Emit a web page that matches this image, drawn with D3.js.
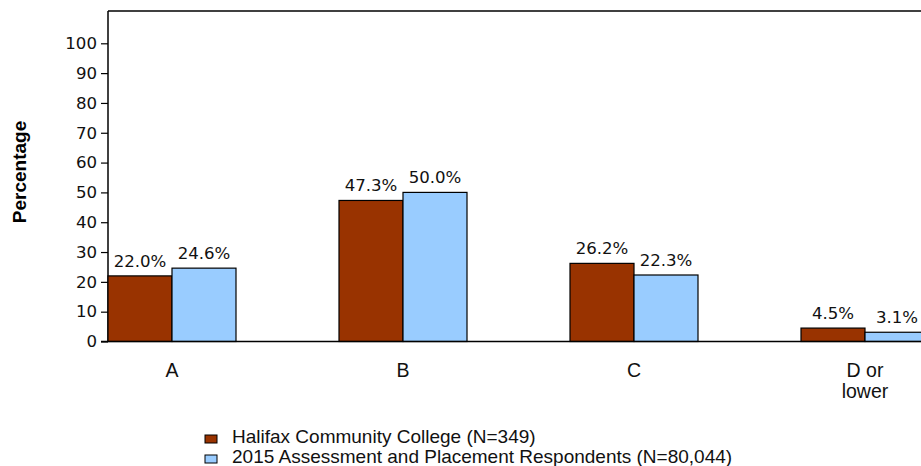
<!DOCTYPE html>
<html>
<head>
<meta charset="utf-8">
<script src="https://cdn.jsdelivr.net/npm/d3@7"></script>
<style>
  html, body { margin: 0; padding: 0; background: #fff; }
  svg { display: block; }
</style>
</head>
<body>
<svg id="chart" width="921" height="466"></svg>
<script>
const categories = ["A", "B", "C", "D or lower"];
const seriesNames = ["Halifax Community College (N=349)", "2015 Assessment and Placement Respondents (N=80,044)"];
const halifax = [22.0, 47.3, 26.2, 4.5];
const respondents = [24.6, 50.0, 22.3, 3.1];
const yTicks = [0, 10, 20, 30, 40, 50, 60, 70, 80, 90, 100];
const colors = ["#993300", "#99CCFF"];

const svg = d3.select("#chart");
const plotLeft = 108, plotTop = 11, plotBottom = 341.5, plotRight = 1040;

const y = d3.scaleLinear().domain([0, 100]).range([plotBottom, 43.3]);
const x0 = d3.scaleBand().domain(categories).range([56.5, 56.5 + 231 * 4]).paddingInner(0).paddingOuter(0);
const x1 = d3.scaleBand().domain([0, 1]).range([0, 128]);

const data = categories.map((c, i) => ({ cat: c, vals: [halifax[i], respondents[i]] }));

// frame
svg.append("line").attr("x1", plotLeft).attr("x2", plotRight).attr("y1", plotTop).attr("y2", plotTop)
  .attr("stroke", "#000").attr("stroke-width", 1.5);
svg.append("line").attr("x1", plotLeft).attr("x2", plotLeft).attr("y1", plotTop).attr("y2", plotBottom)
  .attr("stroke", "#000").attr("stroke-width", 1.5);

// y axis
const yAxis = d3.axisLeft(y).tickValues(yTicks).tickSize(7).tickPadding(4).tickFormat(d3.format("d"));
const gy = svg.append("g").attr("transform", `translate(${plotLeft},0)`).call(yAxis);
gy.select(".domain").remove();
gy.selectAll(".tick line").attr("stroke", "#000").attr("stroke-width", 1.2);
gy.selectAll(".tick text").attr("fill", "#111").style("font-family", "'DejaVu Sans', sans-serif").style("font-size", "16.6px");

// bars
const groups = svg.append("g").selectAll("g").data(data).join("g")
  .attr("transform", d => `translate(${x0(d.cat) + x0.bandwidth() / 2 - 64},0)`);
groups.selectAll("rect").data(d => d.vals.map((v, k) => ({ v, k }))).join("rect")
  .attr("x", d => x1(d.k))
  .attr("y", d => y(d.v))
  .attr("width", x1.bandwidth())
  .attr("height", d => y(0) - y(d.v))
  .attr("fill", d => colors[d.k])
  .attr("stroke", "#000").attr("stroke-width", 1.2);
groups.selectAll("text").data(d => d.vals.map((v, k) => ({ v, k }))).join("text")
  .attr("x", d => x1(d.k) + x1.bandwidth() / 2)
  .attr("y", d => y(d.v) - 9)
  .attr("text-anchor", "middle")
  .style("font-family", "'DejaVu Sans', sans-serif").style("font-size", "16.6px").attr("fill", "#111")
  .text(d => d.v.toFixed(1) + "%");

// baseline
svg.append("line").attr("x1", plotLeft - 7).attr("x2", plotRight).attr("y1", y(0)).attr("y2", y(0))
  .attr("stroke", "#000").attr("stroke-width", 1.5);

// x labels
const xl = svg.append("g").selectAll("text").data(categories).join("text")
  .attr("x", d => x0(d) + x0.bandwidth() / 2)
  .attr("y", 377)
  .attr("text-anchor", "middle")
  .style("font-family", "'Liberation Sans', Arial, sans-serif").style("font-size", "19.5px").attr("fill", "#111");
xl.each(function(d) {
  const parts = d === "D or lower" ? ["D or", "lower"] : [d];
  const t = d3.select(this);
  parts.forEach((p, i) => t.append("tspan").attr("x", x0(d) + x0.bandwidth() / 2).attr("dy", i === 0 ? 0 : 21).text(p));
});

// y title
svg.append("text").attr("transform", "translate(26,172) rotate(-90)")
  .attr("text-anchor", "middle")
  .style("font-family", "'Liberation Sans', Arial, sans-serif").style("font-size", "19px").style("font-weight", "bold")
  .text("Percentage");

// legend
const lg = svg.append("g").selectAll("g").data(seriesNames).join("g")
  .attr("transform", (d, i) => `translate(205,${435 + i * 20})`);
lg.append("rect").attr("width", 12).attr("height", 8).attr("fill", (d, i) => colors[i]).attr("stroke", "#000").attr("stroke-width", 1);
lg.append("text").attr("x", 27).attr("y", 8)
  .style("font-family", "'Liberation Sans', Arial, sans-serif").style("font-size", "19px").attr("fill", "#111")
  .text(d => d);
</script>
</body>
</html>
